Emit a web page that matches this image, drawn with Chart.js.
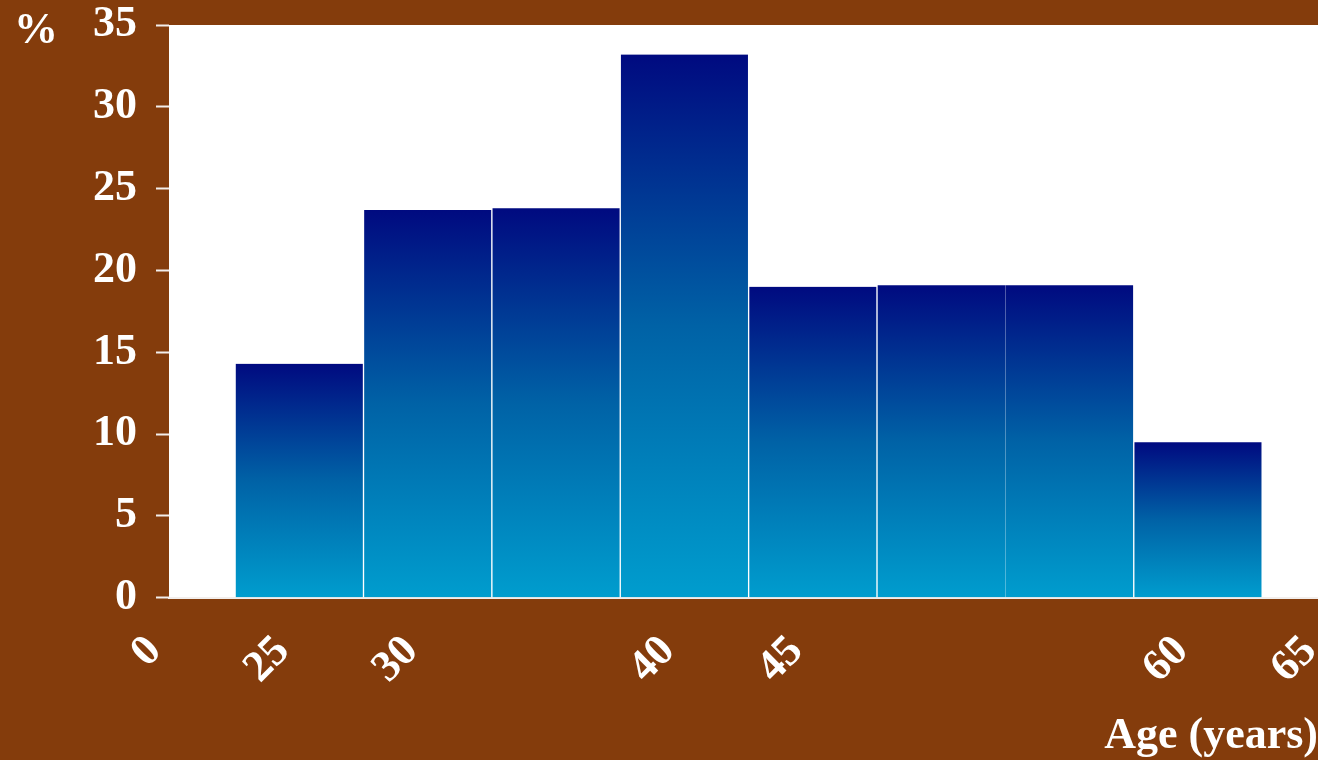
<!DOCTYPE html>
<html>
<head>
<meta charset="utf-8">
<script src="https://cdn.jsdelivr.net/npm/chart.js@4.4.1/dist/chart.umd.min.js"></script>
<style>
  html, body { margin: 0; padding: 0; background: #843c0c; }
  canvas { display: block; }
</style>
</head>
<body>
<canvas id="histchart" width="1318" height="760"></canvas>
<script>
// age groups of the histogram (the 50-60 group is twice as wide)
var ageGroups = ['25-29', '30-34', '35-39', '40-44', '45-49', '50-59', '60-64'];
var groupFrom = [25, 30, 35, 40, 45, 50, 60];
var groupTo = [30, 35, 40, 45, 50, 60, 65];
var percents = [14.3, 23.7, 23.8, 33.2, 19.0, 19.1, 9.5];
var tickAges = [0, 25, 30, 40, 45, 60, 65];

var brown = '#843c0c';
var fontFamily = '"Liberation Serif", "Times New Roman", serif';

// position on the x axis in 5-year steps from 25; 0 sits before the axis break
function agePos(age) {
    if (age === 0) return -1;
    return (age - 25) / 5;
}

// one bar per 5-year slot, wide groups are spread over several slots
var slots = [];
for (var g = 0; g < ageGroups.length; g++) {
    for (var a = groupFrom[g]; a < groupTo[g]; a += 5) {
        slots.push({
            x: agePos(a) + 0.5,
            y: percents[g],
            first: a === groupFrom[g],
            last: a + 5 === groupTo[g]
        });
    }
}

var bgPlugin = {
    id: 'bg',
    beforeDraw: function (chart) {
        var c = chart.ctx, a = chart.chartArea;
        c.save();
        c.fillStyle = brown;
        c.fillRect(0, 0, chart.width, chart.height);
        c.fillStyle = '#ffffff';
        c.fillRect(a.left, a.top, a.right - a.left, a.bottom - a.top);
        c.restore();
    },
    afterDraw: function (chart) {
        var c = chart.ctx;
        c.save();
        c.fillStyle = '#ffffff';
        c.font = 'bold 44px ' + fontFamily;
        c.textBaseline = 'alphabetic';
        c.fillText('%', 14, 43);
        c.restore();
    }
};

var ctx = document.getElementById('histchart').getContext('2d');
var histChart = new Chart(ctx, {
    type: 'bar',
    data: {
        datasets: [{
            label: '%',
            data: slots,
            barPercentage: 1,
            categoryPercentage: 1,
            backgroundColor: function (context) {
                var chart = context.chart;
                var yScale = chart.scales.y;
                if (!yScale || !context.raw || !chart.chartArea) return '#0050a0';
                var top = yScale.getPixelForValue(context.raw.y);
                var bottom = yScale.getPixelForValue(0);
                if (!isFinite(top) || !isFinite(bottom) || top === bottom) return '#0050a0';
                var grad = chart.ctx.createLinearGradient(0, top, 0, bottom);
                grad.addColorStop(0, '#000a80');
                grad.addColorStop(0.5, '#0062a6');
                grad.addColorStop(1, '#009dce');
                return grad;
            },
            borderColor: '#ffffff',
            borderSkipped: false,
            borderWidth: function (context) {
                var p = context.raw;
                if (!p) return 0;
                return { top: 0, bottom: 0, left: p.first ? 1 : 0, right: p.last ? 1 : 0 };
            }
        }]
    },
    options: {
        responsive: false,
        maintainAspectRatio: false,
        animation: false,
        layout: {
            padding: { left: 74, top: 0, right: 0, bottom: 0 }
        },
        plugins: {
            legend: { display: false },
            tooltip: { enabled: false }
        },
        scales: {
            x: {
                type: 'linear',
                offset: false,
                min: -0.515,
                max: 8.435,
                grid: { display: false, drawTicks: false },
                border: { display: true, color: '#f2eeec', width: 2 },
                afterBuildTicks: function (scale) {
                    scale.ticks = tickAges.map(function (age) {
                        return { value: agePos(age) };
                    });
                },
                afterFit: function (scale) {
                    scale.paddingLeft = 0;
                    scale.paddingRight = 0;
                },
                ticks: {
                    autoSkip: false,
                    minRotation: 45,
                    maxRotation: 45,
                    labelOffset: 48,
                    padding: 28,
                    color: '#ffffff',
                    font: { family: fontFamily, size: 44, weight: 'bold' },
                    callback: function (value, index) {
                        return String(tickAges[index]);
                    }
                },
                title: {
                    display: true,
                    text: 'Age (years)',
                    align: 'end',
                    color: '#ffffff',
                    font: { family: fontFamily, size: 44, weight: 'bold' },
                    padding: { top: -12, bottom: -3 }
                }
            },
            y: {
                min: 0,
                max: 35,
                border: { display: false },
                grid: {
                    drawOnChartArea: false,
                    drawTicks: true,
                    tickLength: 13,
                    tickWidth: 2,
                    tickColor: '#f2eeec'
                },
                afterFit: function (scale) {
                    scale.paddingTop = 25;
                },
                ticks: {
                    stepSize: 5,
                    padding: 19,
                    color: '#ffffff',
                    font: { family: fontFamily, size: 44, weight: 'bold' }
                }
            }
        }
    },
    plugins: [bgPlugin]
});
</script>
</body>
</html>
